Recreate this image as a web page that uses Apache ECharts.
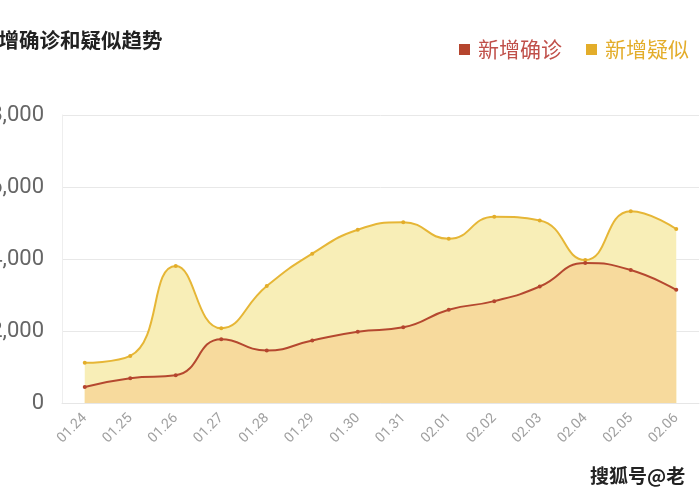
<!DOCTYPE html>
<html>
<head>
<meta charset="utf-8">
<script src="https://cdn.jsdelivr.net/npm/echarts@6/dist/echarts.min.js"></script>
<style>html,body{margin:0;padding:0;background:#fff;}#c{width:700px;height:500px;}</style>
</head>
<body>
<div id="c"></div>
<script>
const categories = ['01.24','01.25','01.26','01.27','01.28','01.29','01.30','01.31','02.01','02.02','02.03','02.04','02.05','02.06'];
const confirmed = [444, 688, 769, 1771, 1459, 1737, 1982, 2102, 2590, 2829, 3235, 3887, 3694, 3143];
const suspected = [1118, 1309, 3806, 2077, 3248, 4148, 4812, 5019, 4562, 5173, 5072, 3971, 5328, 4833];
const yTicks = [0, 2000, 4000, 6000, 8000];
const titleText = '新增确诊和疑似趋势';
const seriesNames = ['新增确诊', '新增疑似'];

const font = '"Noto Sans CJK SC", "Noto Sans", sans-serif';
const chart = echarts.init(document.getElementById('c'), null, {renderer: 'canvas'});
chart.setOption({
  animation: false,
  backgroundColor: '#fff',
  textStyle: {fontFamily: font},
  graphic: [
    {type: 'text', x: -22, y: 30, style: {text: titleText, font: 'bold 20.5px ' + font, fill: '#222'}},
    {type: 'text', x: 590, y: 466, style: {text: '搜狐号@老', font: 'bold 19px ' + font, fill: '#222'}}
  ],
  legend: {
    left: 454, top: 34,
    itemWidth: 11, itemHeight: 11, itemGap: 24,
    icon: 'rect',
    data: [
      {name: seriesNames[0], textStyle: {color: '#c0504a'}},
      {name: seriesNames[1], textStyle: {color: '#e3ad2a'}}
    ],
    textStyle: {fontSize: 21, fontFamily: font, padding: [0, 0, 0, 3]}
  },
  grid: {left: 62, right: 1, top: 115, bottom: 97, containLabel: false, outerBoundsMode: 'none'},
  xAxis: {
    type: 'category',
    data: categories,
    boundaryGap: true,
    axisLine: {show: true, lineStyle: {color: '#e6e6e6'}},
    axisTick: {show: false},
    axisLabel: {rotate: 45, color: '#a0a0a0', fontSize: 14, margin: 13, interval: 0, fontFamily: 'Roboto, sans-serif'}
  },
  yAxis: {
    type: 'value',
    min: yTicks[0], max: yTicks[yTicks.length - 1], interval: 2000,
    axisLine: {show: true, lineStyle: {color: '#eeeeee'}},
    axisTick: {show: false},
    splitLine: {lineStyle: {color: '#e8e8e8'}},
    axisLabel: {color: '#666', fontSize: 22, margin: 18, fontFamily: 'Roboto, sans-serif',
      formatter: v => v.toLocaleString('en-US')}
  },
  series: [
    {
      name: seriesNames[1], type: 'line', data: suspected, smooth: true,
      symbol: 'circle', symbolSize: 4, z: 2,
      itemStyle: {color: '#e3ad2a'},
      lineStyle: {color: '#e6b636', width: 2},
      areaStyle: {color: '#f8eeb7', opacity: 1}
    },
    {
      name: seriesNames[0], type: 'line', data: confirmed, smooth: true,
      symbol: 'circle', symbolSize: 4, z: 3,
      itemStyle: {color: '#b5452e'},
      lineStyle: {color: '#b5482f', width: 2},
      areaStyle: {color: '#f7da9d', opacity: 1}
    }
  ]
});
</script>
</body>
</html>
